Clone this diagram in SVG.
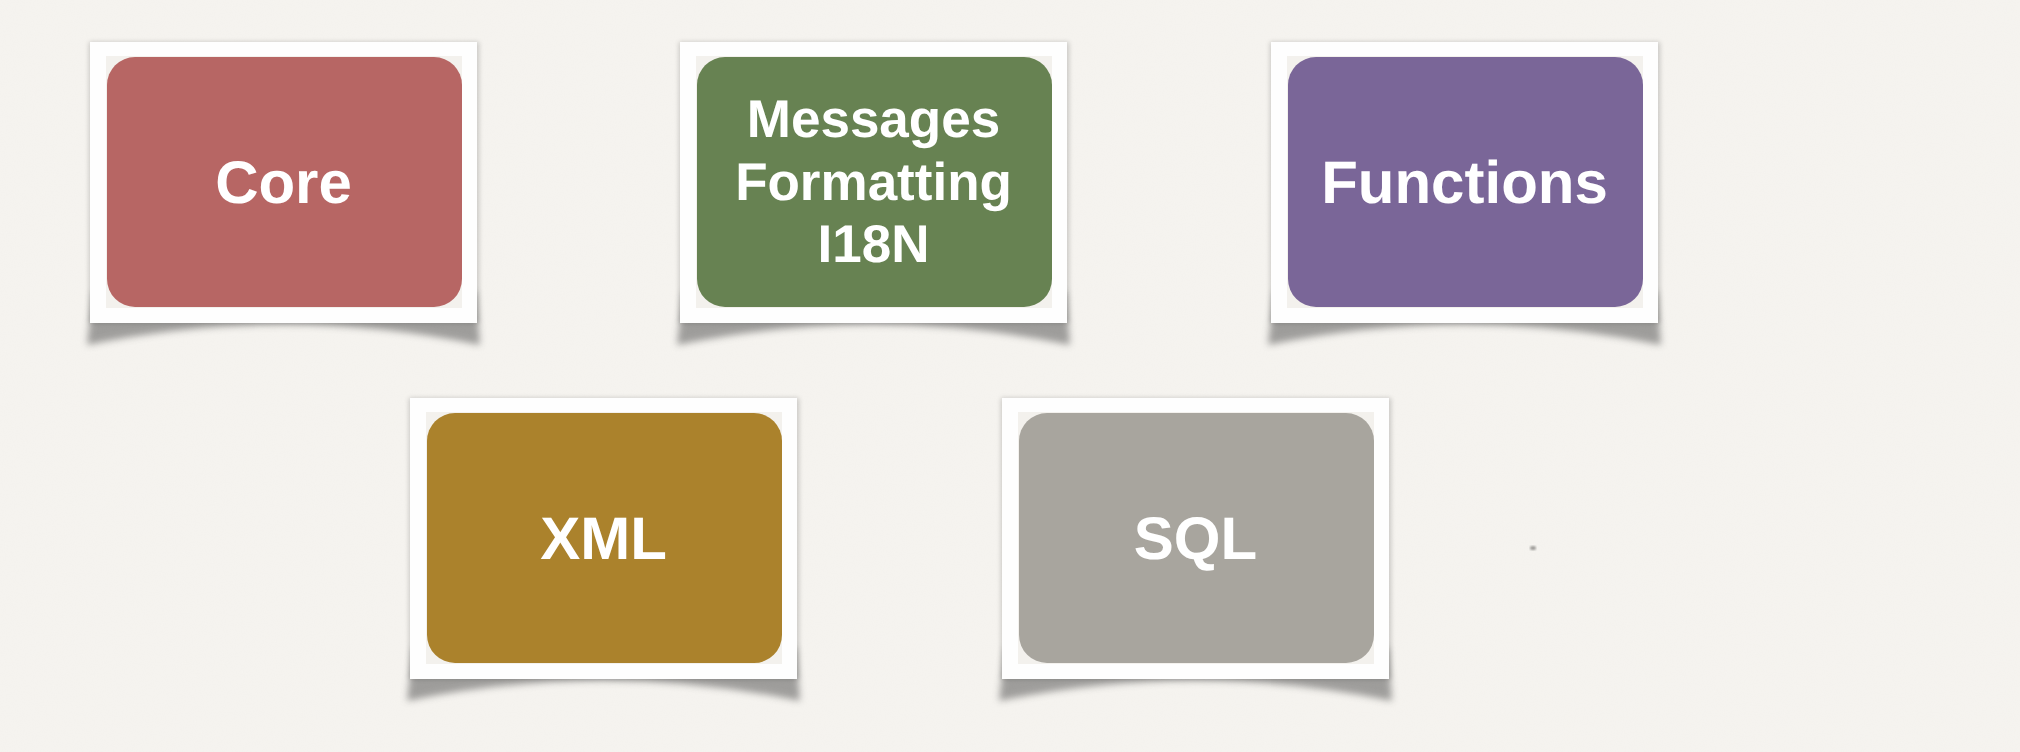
<svg xmlns="http://www.w3.org/2000/svg" width="2020" height="752" viewBox="0 0 2020 752">
  <defs>
    <style>
      .frame { fill: #fefefe; }
      .mat { fill: #f3f1ed; }
      .label { font-family: "Liberation Sans", Arial, sans-serif; font-weight: bold; fill: #ffffff; text-anchor: middle; text-rendering: geometricPrecision; }
      .big { font-size: 60px; }
      .small { font-size: 53px; }
      .curl { fill: #4a4a4a; opacity: 0.5; filter: url(#soft); }
      .edge { fill: #000; opacity: 0.18; filter: url(#edgeBlur); }
    </style>
    <!-- paper grain for the backdrop -->
    <filter id="grain" x="0" y="0" width="100%" height="100%">
      <feTurbulence type="fractalNoise" baseFrequency="0.9" numOctaves="2" seed="7" result="n"/>
      <feColorMatrix in="n" type="matrix" values="0 0 0 0 0.6  0 0 0 0 0.58  0 0 0 0 0.54  0 0 0 0.06 0"/>
    </filter>
    <filter id="soft" x="-10%" y="-50%" width="120%" height="200%">
      <feGaussianBlur stdDeviation="3.5"/>
    </filter>
    <filter id="edgeBlur" x="-10%" y="-10%" width="120%" height="120%">
      <feGaussianBlur stdDeviation="2.5"/>
    </filter>
    <filter id="speckBlur"><feGaussianBlur stdDeviation="1"/></filter>
    <!-- photo-style card: curled shadow, white border, mat -->
    <g id="cardBase">
      <path class="curl" d="M 3 250 L 386 250 L 390 303 Q 193.5 262 -3 303 Z"/>
      <rect class="edge" x="-1" y="0" width="390" height="281"/>
      <rect class="frame" x="0" y="0" width="387" height="281"/>
      <rect class="mat" x="16" y="14" width="356" height="252"/>
    </g>
  </defs>

  <rect x="0" y="0" width="2020" height="752" fill="#f6f4f0"/>
  <rect x="0" y="0" width="2020" height="752" filter="url(#grain)"/>
  <ellipse cx="1533" cy="548" rx="3" ry="2" fill="#9a9894" filter="url(#speckBlur)"/>

  <g id="connectors"></g>

  <g id="node-core" transform="translate(90,42)">
    <use href="#cardBase"/>
    <rect x="17" y="15" width="355" height="250" rx="28" fill="#b76664"/>
    <text class="label big" x="193.5" y="161">Core</text>
  </g>

  <g id="node-messages" transform="translate(680,42)">
    <use href="#cardBase"/>
    <rect x="17" y="15" width="355" height="250" rx="28" fill="#678252"/>
    <text class="label small" x="193.5" y="95">Messages</text>
    <text class="label small" x="193.5" y="157.5">Formatting</text>
    <text class="label small" x="193.5" y="220">I18N</text>
  </g>

  <g id="node-functions" transform="translate(1271,42)">
    <use href="#cardBase"/>
    <rect x="17" y="15" width="355" height="250" rx="28" fill="#7a6698"/>
    <text class="label big" x="193.5" y="161">Functions</text>
  </g>

  <g id="node-xml" transform="translate(410,398)">
    <use href="#cardBase"/>
    <rect x="17" y="15" width="355" height="250" rx="28" fill="#ab822c"/>
    <text class="label big" x="193.5" y="161">XML</text>
  </g>

  <g id="node-sql" transform="translate(1002,398)">
    <use href="#cardBase"/>
    <rect x="17" y="15" width="355" height="250" rx="28" fill="#a8a59e"/>
    <text class="label big" x="193.5" y="161">SQL</text>
  </g>
</svg>
